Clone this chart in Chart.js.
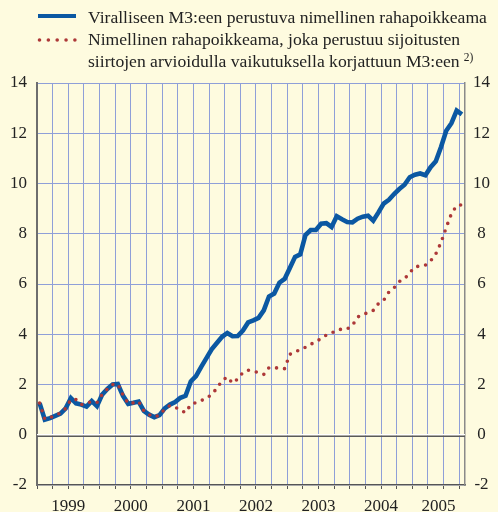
<!DOCTYPE html>
<html><head><meta charset="utf-8">
<script src="https://cdn.jsdelivr.net/npm/chart.js@4.4.1/dist/chart.umd.min.js"></script>
<style>html,body{margin:0;padding:0;background:#fefbdf;overflow:hidden}</style>
</head><body>
<canvas id="c" width="498" height="512"></canvas>
<script>
// Monthly observations, Jan 1999 ... Oct 2005 (index 0 = Jan 1999)
const blueValues = [1.26,0.60,0.66,0.75,0.84,1.05,1.46,1.25,1.20,1.12,1.34,1.14,
  1.60,1.82,2.00,2.02,1.55,1.23,1.27,1.32,0.95,0.80,0.70,0.78,
  1.05,1.20,1.30,1.47,1.55,2.12,2.33,2.70,3.05,3.40,3.65,3.90,
  4.05,3.92,3.93,4.15,4.47,4.55,4.65,4.95,5.50,5.62,6.05,6.20,
  6.64,7.08,7.18,7.95,8.15,8.15,8.40,8.42,8.27,8.70,8.58,8.47,
  8.45,8.60,8.68,8.72,8.52,8.85,9.20,9.35,9.58,9.78,9.95,10.25,
  10.35,10.40,10.33,10.65,10.88,11.45,12.10,12.40,12.90,12.75];
const redValues = [1.26,0.62,0.68,0.78,0.86,1.05,1.40,1.40,1.20,1.25,1.32,1.28,
  1.60,1.82,2.00,2.02,1.58,1.24,1.27,1.33,0.95,0.80,0.70,0.78,
  1.02,1.16,1.10,0.97,0.88,1.20,1.28,1.36,1.45,1.60,1.85,2.15,
  2.30,2.05,2.22,2.48,2.57,2.53,2.47,2.40,2.67,2.67,2.65,2.63,
  3.20,3.30,3.38,3.48,3.60,3.70,3.83,3.97,4.05,4.15,4.21,4.21,
  4.35,4.68,4.80,4.85,4.95,5.22,5.35,5.68,5.85,6.10,6.20,6.45,
  6.68,6.72,6.75,6.92,7.20,7.65,8.25,8.80,9.12,9.15];
const yearLabels = ['1999','2000','2001','2002','2003','2004','2005'];
const yTickValues = [-2,0,2,4,6,8,10,12,14];
const legendBlue = 'Viralliseen M3:een perustuva nimellinen rahapoikkeama';
const legendRed = ['Nimellinen rahapoikkeama, joka perustuu sijoitusten',
                   'siirtojen arvioidulla vaikutuksella korjattuun M3:een'];
const legendNote = '2)';

const BG = '#fefbdf';
const BLUE = '#0b58a2';
const RED = '#ad3838';
const GRID = '#8f9fd8';
const FONT = '"Liberation Serif", "Times New Roman", serif';

// x axis: months, Jan 1 1999 = -0.5 ; quarter ticks + label centre for partial 2005
const quarterTicks = [];
for (let v = -0.5; v <= 81; v += 3) quarterTicks.push(v);
const LABEL_2005 = 76.5;

const bgPlugin = {
  id: 'bg',
  beforeDraw(chart) {
    const c = chart.ctx;
    c.save(); c.fillStyle = BG; c.fillRect(0, 0, chart.width, chart.height); c.restore();
  }
};
const zeroPlugin = {
  id: 'zero',
  beforeDatasetsDraw(chart) {
    const c = chart.ctx, a = chart.chartArea, y = chart.scales.y.getPixelForValue(0);
    c.save();
    c.strokeStyle = '#ffffff'; c.lineWidth = 1.5;
    c.beginPath(); c.moveTo(a.left, y); c.lineTo(a.right, y); c.stroke();
    c.strokeStyle = '#5a5a5a'; c.lineWidth = 1.5;
    c.beginPath(); c.moveTo(a.left, y + 1.6); c.lineTo(a.right, y + 1.6); c.stroke();
    c.restore();
  }
};
const legendPlugin = {
  id: 'legendCustom',
  afterDraw(chart) {
    const c = chart.ctx;
    c.save();
    c.font = '16px ' + FONT;
    const w16 = c.measureText(legendBlue).width;
    const fs = 16 * 399 / w16;
    c.font = fs.toFixed(2) + 'px ' + FONT;
    c.fillStyle = '#222';
    c.textBaseline = 'alphabetic';
    c.textAlign = 'left';
    const tx = 88;
    c.fillText(legendBlue, tx, 22.5);
    c.fillText(legendRed[0], tx, 44.5);
    c.fillText(legendRed[1], tx, 66.5);
    const w3 = c.measureText(legendRed[1]).width;
    c.font = (fs * 0.65).toFixed(2) + 'px ' + FONT;
    c.fillText(legendNote, tx + w3 + 4, 61);
    // blue sample
    c.strokeStyle = BLUE; c.lineWidth = 4; c.lineCap = 'butt';
    c.beginPath(); c.moveTo(38, 16); c.lineTo(76, 16); c.stroke();
    // red dotted sample
    c.fillStyle = RED;
    for (let i = 0; i < 5; i++) {
      c.beginPath(); c.arc(39.5 + i * 8.85, 40, 1.8, 0, Math.PI * 2); c.fill();
    }
    c.restore();
  }
};

const ctx = document.getElementById('c').getContext('2d');
new Chart(ctx, {
  type: 'line',
  data: {
    datasets: [
      {
        label: legendRed.join(' '),
        data: redValues.map((v, i) => ({x: i, y: v})),
        borderColor: RED,
        borderWidth: 3.6,
        borderDash: [0, 8],
        borderCapStyle: 'round',
        pointRadius: 0,
        tension: 0,
        fill: false
      },
      {
        label: legendBlue,
        data: blueValues.map((v, i) => ({x: i, y: v})),
        borderColor: BLUE,
        borderWidth: 4.6,
        borderJoinStyle: 'miter',
        pointRadius: 0,
        tension: 0,
        fill: false
      }
    ]
  },
  options: {
    responsive: false,
    animation: false,
    devicePixelRatio: 1,
    layout: { padding: { top: 83, left: 0, right: 0, bottom: 0 } },
    plugins: { legend: { display: false }, tooltip: { enabled: false } },
    scales: {
      x: {
        type: 'linear',
        position: 'bottom',
        min: -0.5,
        max: 81.6,
        afterBuildTicks(scale) {
          scale.ticks = quarterTicks.concat([LABEL_2005]).sort((a, b) => a - b).map(v => ({value: v}));
        },
        afterFit(scale) { scale.height = 27; },
        grid: {
          color: c => (c.tick && c.tick.value === LABEL_2005) ? 'rgba(0,0,0,0)' : GRID,
          tickColor: c => (c.tick && c.tick.value === LABEL_2005) ? 'rgba(0,0,0,0)' : '#555',
          lineWidth: 1,
          drawTicks: true,
          tickLength: 4
        },
        border: { color: '#555', width: 1.5 },
        ticks: {
          autoSkip: false,
          maxRotation: 0,
          padding: 7,
          color: '#222',
          font: { family: FONT, size: 17 },
          callback(value) {
            if (value === LABEL_2005) return yearLabels[6];
            const k = (value - 5.5) / 12;
            if (Number.isInteger(k) && k >= 0 && k < 6) return yearLabels[k];
            return '';
          }
        }
      },
      y: {
        position: 'left',
        min: -2, max: 14,
        afterBuildTicks(scale) { scale.ticks = yTickValues.map(v => ({value: v})); },
        afterFit(scale) { scale.width = 37; },
        grid: {
          color: c => (c.tick && (c.tick.value === 0 || c.tick.value === -2)) ? '#ffffff' : GRID,
          lineWidth: 1,
          drawTicks: false
        },
        border: { color: '#6e6e6e', width: 2 },
        ticks: {
          padding: 10,
          color: '#222',
          font: { family: FONT, size: 17 },
          callback: v => String(v)
        }
      },
      y2: {
        position: 'right',
        min: -2, max: 14,
        afterBuildTicks(scale) { scale.ticks = yTickValues.map(v => ({value: v})); },
        afterFit(scale) { scale.width = 33; },
        grid: { drawOnChartArea: false, drawTicks: false },
        border: { color: '#8a8a8a', width: 1.5 },
        ticks: {
          padding: 8,
          crossAlign: 'center',
          color: '#222',
          font: { family: FONT, size: 17 },
          callback: v => String(v)
        }
      }
    }
  },
  plugins: [bgPlugin, zeroPlugin, legendPlugin]
});
</script>
</body></html>
